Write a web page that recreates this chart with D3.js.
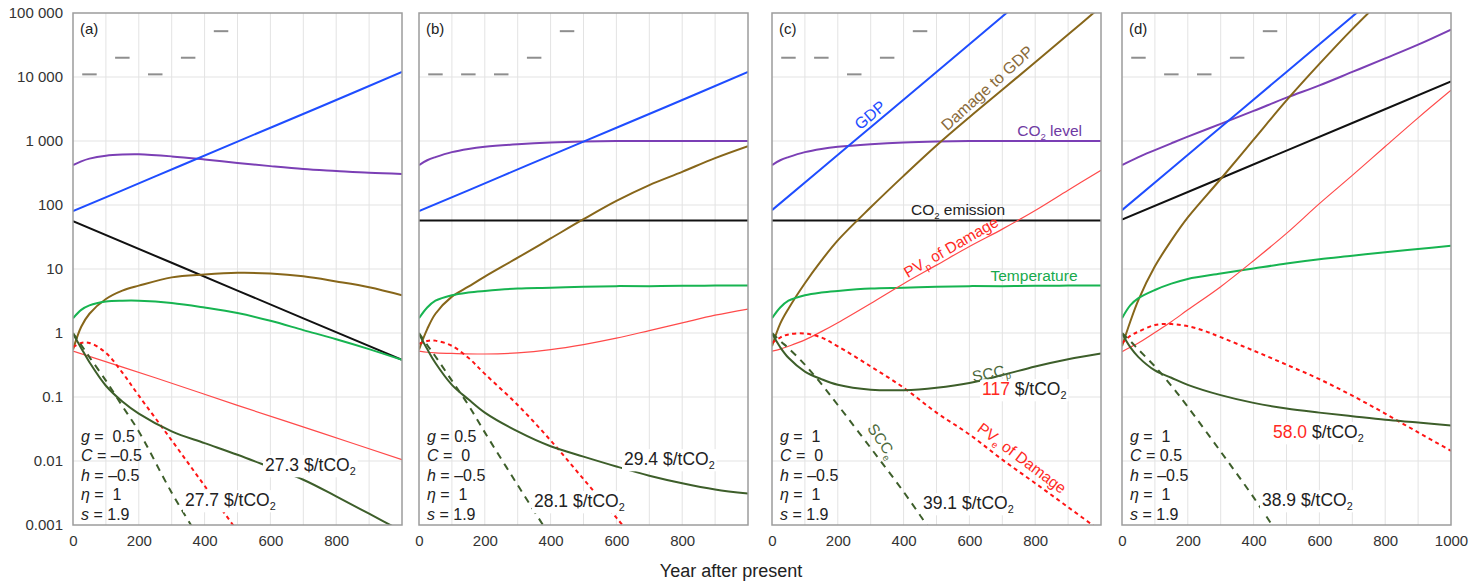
<!DOCTYPE html>
<html>
<head>
<meta charset="utf-8">
<script src="https://cdn.jsdelivr.net/npm/d3@7"></script>
<style>
  html, body { margin: 0; padding: 0; background: #fff; }
  text { font-family: "Liberation Sans", Arial, Helvetica, sans-serif; }
</style>
</head>
<body>
<svg id="chart" width="1484" height="585"></svg>
<script>
// ---------- shared axis values ----------
const xTicks = [0, 200, 400, 600, 800];
const xTicksLast = [0, 200, 400, 600, 800, 1000];
const yTicks = [100000, 10000, 1000, 100, 10, 1, 0.1, 0.01, 0.001];
const yTickLabels = ["100 000", "10 000", "1 000", "100", "10", "1", "0.1", "0.01", "0.001"];
const markYears = [50, 150, 250, 350, 450];

// ---------- panel (a): g = 0.5, C = -0.5 ----------
const gdpA = [[0,80],[250,280],[500,980],[750,3400],[1000,12000]];
const co2LevelA = [[0,420],[25,480],[50,530],[100,590],[150,615],[200,620],[300,575],[400,515],[500,455],[600,405],[700,365],[800,340],[900,318],[1000,305]];
const co2EmissionA = [[0,56],[500,4.6],[1000,0.38]];
const damageA = [[0,0.55],[25,1.25],[50,2.0],[100,3.4],[150,4.6],[200,5.5],[300,7.4],[400,8.2],[500,8.7],[600,8.5],[700,7.7],[800,6.4],[900,5.2],[1000,3.9]];
const temperatureA = [[0,1.7],[25,2.3],[50,2.7],[100,3.1],[150,3.2],[200,3.2],[300,2.95],[400,2.5],[500,2.05],[600,1.55],[700,1.11],[800,0.8],[900,0.56],[1000,0.38]];
const pvpA = [[0,0.52],[250,0.2],[500,0.074],[750,0.028],[1000,0.0105]];
const pveA = [[0,0.6],[25,0.7],[50,0.7],[100,0.49],[150,0.24],[200,0.105],[300,0.021],[400,0.0041],[500,0.0008]];
const sccpA = [[0,0.97],[25,0.58],[50,0.35],[100,0.15],[150,0.085],[200,0.055],[300,0.029],[400,0.019],[500,0.0125],[600,0.008],[700,0.0051],[800,0.0028],[900,0.0015],[1000,0.0008]];
const sceA = [[0,1.0],[25,0.65],[50,0.42],[100,0.18],[150,0.072],[200,0.029],[300,0.0032],[400,0.00045]];
const marksA = [11000, 20000, 11000, 20000, 52000];

// ---------- panel (b): g = 0.5, C = 0 ----------
const gdpB = [[0,80],[250,280],[500,980],[750,3400],[1000,12000]];
const co2LevelB = [[0,420],[25,500],[50,560],[100,670],[150,750],[200,810],[300,890],[400,950],[500,985],[600,1000],[700,1000],[800,1000],[900,1000],[1000,1000]];
const co2EmissionB = [[0,57],[500,57],[1000,57]];
const damageB = [[0,0.55],[25,1.15],[50,2.0],[100,3.7],[150,5.3],[200,7.6],[300,15],[400,30],[500,60],[600,116],[700,205],[800,330],[900,540],[1000,830]];
const temperatureB = [[0,1.7],[25,2.5],[50,3.2],[100,3.9],[150,4.3],[200,4.55],[300,4.95],[400,5.1],[500,5.3],[600,5.4],[700,5.4],[800,5.45],[900,5.5],[1000,5.5]];
const pvpB = [[0,0.52],[25,0.5],[50,0.49],[100,0.48],[200,0.47],[300,0.49],[400,0.55],[500,0.66],[600,0.83],[700,1.09],[800,1.44],[900,1.9],[1000,2.37]];
const pveB = [[0,0.68],[25,0.75],[50,0.76],[100,0.63],[150,0.41],[200,0.23],[300,0.075],[400,0.021],[500,0.0052],[600,0.0013],[700,0.0003]];
const sccpB = [[0,0.97],[25,0.56],[50,0.34],[100,0.155],[150,0.092],[200,0.057],[300,0.029],[400,0.017],[500,0.0117],[600,0.0082],[700,0.0059],[800,0.0045],[900,0.0036],[1000,0.0031]];
const sceB = [[0,1.0],[25,0.65],[50,0.43],[100,0.18],[150,0.075],[200,0.028],[300,0.0042],[400,0.00065]];
const marksB = [11000, 11000, 11000, 20000, 52000];

// ---------- panel (c): g = 1, C = 0 ----------
const gdpC = [[0,83],[250,1000],[500,12000],[750,145000]];
const co2LevelC = [[0,420],[25,500],[50,560],[100,670],[150,750],[200,810],[300,890],[400,950],[500,985],[600,1000],[700,1000],[800,1000],[900,1000],[1000,1000]];
const co2EmissionC = [[0,57],[500,57],[1000,57]];
const damageC = [[0,0.62],[25,1.4],[50,2.4],[100,6.0],[150,13.5],[200,28],[300,92],[400,285],[500,850],[600,2350],[700,6300],[800,17000],[900,46000],[1000,126000]];
const temperatureC = [[0,1.7],[25,2.5],[50,3.2],[100,3.9],[150,4.3],[200,4.55],[300,4.95],[400,5.1],[500,5.3],[600,5.4],[700,5.4],[800,5.45],[900,5.5],[1000,5.5]];
const pvpC = [[0,0.52],[25,0.56],[50,0.62],[100,0.78],[150,1.05],[200,1.45],[300,2.9],[400,5.9],[500,11.5],[600,22.5],[700,42],[800,82],[900,170],[1000,350]];
const pveC = [[0,0.7],[25,0.85],[50,0.95],[100,0.98],[150,0.85],[200,0.62],[300,0.30],[400,0.14],[500,0.057],[600,0.026],[700,0.0105],[800,0.0045],[900,0.0019],[1000,0.0008]];
const sccpC = [[0,0.98],[25,0.6],[50,0.41],[100,0.25],[150,0.19],[200,0.155],[300,0.13],[400,0.128],[500,0.14],[600,0.166],[700,0.22],[800,0.30],[900,0.39],[1000,0.48]];
const sceC = [[0,1.0],[25,0.75],[50,0.58],[100,0.32],[150,0.16],[200,0.075],[300,0.016],[400,0.0033],[500,0.0006]];
const marksC = [20000, 20000, 11000, 20000, 52000];

// ---------- panel (d): g = 1, C = 0.5 ----------
const gdpD = [[0,83],[250,1000],[500,12000],[750,145000]];
const co2LevelD = [[0,420],[50,560],[100,720],[150,920],[200,1170],[300,1850],[400,2950],[500,4750],[600,7400],[700,12000],[800,19500],[900,32000],[1000,55000]];
const co2EmissionD = [[0,59],[500,708],[1000,8500]];
const damageD = [[0,0.62],[25,1.5],[50,3.3],[100,11],[150,28],[200,64],[300,255],[400,1050],[500,4300],[600,16000],[700,56000],[800,180000]];
const temperatureD = [[0,1.7],[25,2.7],[50,3.5],[100,4.7],[150,5.9],[200,7.0],[300,8.5],[400,10.2],[500,12.2],[600,14.2],[700,16.1],[800,18.3],[900,20.5],[1000,23]];
const pvpD = [[0,0.51],[25,0.6],[50,0.7],[100,1.02],[150,1.5],[200,2.3],[300,5.3],[400,13.5],[500,36],[600,105],[700,290],[800,820],[900,2300],[1000,6200]];
const pveD = [[0,0.69],[25,0.9],[50,1.05],[100,1.33],[150,1.38],[200,1.28],[250,1.08],[300,0.86],[400,0.53],[500,0.32],[600,0.19],[700,0.105],[800,0.055],[900,0.028],[1000,0.0144]];
const sccpD = [[0,0.98],[25,0.6],[50,0.42],[100,0.26],[150,0.2],[200,0.155],[300,0.107],[400,0.081],[500,0.066],[600,0.057],[700,0.05],[800,0.044],[900,0.04],[1000,0.036]];
const sceD = [[0,1.0],[25,0.75],[50,0.55],[100,0.3],[150,0.15],[200,0.07],[300,0.014],[400,0.0027],[500,0.00045]];
const marksD = [20000, 11000, 11000, 20000, 52000];

// parameter blocks: [symbol, rest of line]
const paramsA = [["g", " =  0.5"], ["C", " = \u20130.5"], ["h", " = \u20130.5"], ["\u03b7", " =  1"], ["s", " = 1.9"]];
const paramsB = [["g", " = 0.5"], ["C", " =  0"], ["h", " = \u20130.5"], ["\u03b7", " =  1"], ["s", " = 1.9"]];
const paramsC = [["g", " =  1"], ["C", " =  0"], ["h", " = \u20130.5"], ["\u03b7", " =  1"], ["s", " = 1.9"]];
const paramsD = [["g", " =  1"], ["C", " = 0.5"], ["h", " = \u20130.5"], ["\u03b7", " =  1"], ["s", " = 1.9"]];

// ---------- styles ----------
const RED = "#ff2a1f";
const style = {
  co2Level:    { color: "#7b3fb5", width: 2 },
  gdp:         { color: "#1f4dff", width: 2 },
  co2Emission: { color: "#111111", width: 2 },
  damage:      { color: "#87661a", width: 2 },
  temperature: { color: "#17b451", width: 2 },
  pvp:         { color: "#ff4a4a", width: 1.2 },
  pve:         { color: "#ff1414", width: 2, dash: "4 3.5" },
  sccp:        { color: "#3d5e2a", width: 2 },
  sce:         { color: "#3d5e2a", width: 2, dash: "7 6" }
};
const order = ["co2Level", "gdp", "co2Emission", "damage", "temperature", "pvp", "pve", "sccp", "sce"];

const panels = [
  { tag: "(a)", left: 73,  xTicks: xTicks, params: paramsA, marks: marksA,
    series: { gdp: gdpA, co2Level: co2LevelA, co2Emission: co2EmissionA, damage: damageA, temperature: temperatureA, pvp: pvpA, pve: pveA, sccp: sccpA, sce: sceA },
    values: [ { dx: 192, y: 465, num: "27.3", red: false }, { dx: 112, y: 500, num: "27.7", red: false } ] },
  { tag: "(b)", left: 419, xTicks: xTicks, params: paramsB, marks: marksB,
    series: { gdp: gdpB, co2Level: co2LevelB, co2Emission: co2EmissionB, damage: damageB, temperature: temperatureB, pvp: pvpB, pve: pveB, sccp: sccpB, sce: sceB },
    values: [ { dx: 205, y: 459, num: "29.4", red: false }, { dx: 115, y: 501, num: "28.1", red: false } ] },
  { tag: "(c)", left: 772, xTicks: xTicks, params: paramsC, marks: marksC,
    series: { gdp: gdpC, co2Level: co2LevelC, co2Emission: co2EmissionC, damage: damageC, temperature: temperatureC, pvp: pvpC, pve: pveC, sccp: sccpC, sce: sceC },
    values: [ { dx: 210, y: 389, num: "117", red: true }, { dx: 151, y: 503, num: "39.1", red: false } ] },
  { tag: "(d)", left: 1122, xTicks: xTicksLast, params: paramsD, marks: marksD,
    series: { gdp: gdpD, co2Level: co2LevelD, co2Emission: co2EmissionD, damage: damageD, temperature: temperatureD, pvp: pvpD, pve: pveD, sccp: sccpD, sce: sceD },
    values: [ { dx: 151, y: 432, num: "58.0", red: true }, { dx: 140, y: 500, num: "38.9", red: false } ] }
];

// series names written along the curves of panel (c)
const seriesLabels = [
  { parts: [{ t: "GDP" }], color: style.gdp.color, dx: 98, y: 115, rot: -40, anchor: "middle", size: 16 },
  { parts: [{ t: "Damage to GDP" }], color: "#8a6a3a", dx: 215, y: 88, rot: -42, anchor: "middle", size: 16 },
  { parts: [{ t: "CO" }, { t: "2", sub: true }, { t: " level" }], color: "#6f3aa3", dx: 310, y: 131, rot: 0, anchor: "end", size: 15.5 },
  { parts: [{ t: "CO" }, { t: "2", sub: true }, { t: " emission" }], color: "#222", dx: 186, y: 210, rot: 0, anchor: "middle", size: 15.5 },
  { parts: [{ t: "PV" }, { t: "p", sub: true }, { t: " of Damage" }], color: RED, dx: 179, y: 247, rot: -30, anchor: "middle", size: 15.5 },
  { parts: [{ t: "Temperature" }], color: "#17a94c", dx: 262, y: 276, rot: 0, anchor: "middle", size: 15.5 },
  { parts: [{ t: "SCC" }, { t: "p", sub: true }], color: "#4d6a3c", dx: 219, y: 373, rot: -11, anchor: "middle", size: 15.5 },
  { parts: [{ t: "SCC" }, { t: "e", sub: true }], color: "#4d6a3c", dx: 110, y: 441, rot: 56, anchor: "middle", size: 15.5 },
  { parts: [{ t: "PV" }, { t: "e", sub: true }, { t: " of Damage" }], color: RED, dx: 250, y: 458, rot: 37, anchor: "middle", size: 15.5 }
];

// ---------- layout ----------
const plotW = 329, plotTop = 13, plotBottom = 525;
const svg = d3.select("#chart");
const fontTick = 15;

function richText(sel, parts, size) {
  let shifted = false;
  parts.forEach(p => {
    const ts = sel.append("tspan").text(p.t);
    if (p.sub) {
      ts.attr("font-size", size * 0.62).attr("dy", size * 0.24);
      shifted = true;
    } else if (shifted) {
      ts.attr("dy", -size * 0.24);
      shifted = false;
    }
    if (p.color) ts.attr("fill", p.color);
  });
}

const y = d3.scaleLog().domain([0.001, 100000]).range([plotBottom, plotTop]);

panels.forEach((p, pi) => {
  const x = d3.scaleLinear().domain([0, 1000]).range([p.left, p.left + plotW]);
  const g = svg.append("g");
  const clipId = "clip" + pi;
  g.append("clipPath").attr("id", clipId).append("rect")
    .attr("x", p.left).attr("y", plotTop).attr("width", plotW).attr("height", plotBottom - plotTop);

  // grid
  const grid = g.append("g").attr("stroke", "#e3e3e3").attr("stroke-width", 1);
  d3.range(100, 1000, 100).forEach(v => {
    grid.append("line").attr("x1", x(v)).attr("x2", x(v)).attr("y1", plotTop).attr("y2", plotBottom);
  });
  yTicks.slice(1, -1).forEach(v => {
    grid.append("line").attr("x1", p.left).attr("x2", p.left + plotW).attr("y1", y(v)).attr("y2", y(v));
  });

  // short grey markers near the top
  g.append("g").selectAll("line").data(p.marks).join("line")
    .attr("x1", (d, i) => x(markYears[i] - 22)).attr("x2", (d, i) => x(markYears[i] + 22))
    .attr("y1", d => y(d)).attr("y2", d => y(d))
    .attr("stroke", "#8e8e8e").attr("stroke-width", 2);

  // curves
  const line = d3.line().x(d => x(d[0])).y(d => y(d[1])).curve(d3.curveCatmullRom.alpha(0.5));
  const curves = g.append("g").attr("clip-path", `url(#${clipId})`);
  order.forEach(k => {
    const s = style[k];
    curves.append("path").datum(p.series[k]).attr("d", line)
      .attr("fill", "none").attr("stroke", s.color).attr("stroke-width", s.width)
      .attr("stroke-dasharray", s.dash || null).attr("stroke-linejoin", "round");
  });

  // frame
  g.append("rect").attr("x", p.left).attr("y", plotTop).attr("width", plotW).attr("height", plotBottom - plotTop)
    .attr("fill", "none").attr("stroke", "#9c9c9c").attr("stroke-width", 1.5);

  // x axis labels
  const xAxis = d3.axisBottom(x).tickValues(p.xTicks).tickSize(0).tickPadding(10).tickFormat(d3.format("d"));
  const xa = g.append("g").attr("transform", `translate(0,${plotBottom})`).call(xAxis);
  xa.select(".domain").remove();
  xa.selectAll("text").attr("font-size", fontTick).attr("fill", "#333");
  xa.attr("font-family", null);

  // y axis labels only on the first panel
  if (pi === 0) {
    const yAxis = d3.axisLeft(y).tickValues(yTicks).tickSize(0).tickPadding(10)
      .tickFormat((d, i) => yTickLabels[i]);
    const ya = g.append("g").attr("transform", `translate(${p.left},0)`).call(yAxis);
    ya.select(".domain").remove();
    ya.selectAll("text").attr("font-size", fontTick).attr("fill", "#333");
    ya.attr("font-family", null);
  }

  // panel tag
  g.append("text").attr("x", p.left + 7).attr("y", 29 + 5.3).attr("font-size", 15).attr("fill", "#222").text(p.tag);

  // parameter block
  const pb = g.append("g");
  const pc = [436, 455.5, 475, 494.5, 514];
  p.params.forEach((row, i) => {
    const t = pb.append("text").attr("x", p.left + 8).attr("y", pc[i] + 5.6)
      .attr("font-size", 16).attr("fill", "#222").style("white-space", "pre");
    t.append("tspan").attr("font-style", "italic").text(row[0]);
    t.append("tspan").text(row[1]);
  });

  // SCC value labels
  p.values.forEach(v => {
    const size = 17.5;
    const t = g.append("text").attr("x", p.left + v.dx).attr("y", v.y + size * 0.35)
      .attr("font-size", size).attr("fill", "#222").style("white-space", "pre");
    richText(t, [{ t: v.num, color: v.red ? RED : null }, { t: " $/tCO" }, { t: "2", sub: true }], size);
    const bb = t.node().getBBox();
    g.insert("rect", () => t.node())
      .attr("x", bb.x - 2).attr("y", bb.y).attr("width", bb.width + 4).attr("height", bb.height)
      .attr("fill", "#fff");
  });

  // curve names in panel (c)
  if (pi === 2) {
    seriesLabels.forEach(l => {
      const t = g.append("text")
        .attr("transform", `translate(${p.left + l.dx},${l.y}) rotate(${l.rot})`)
        .attr("y", l.size * 0.35).attr("text-anchor", l.anchor)
        .attr("font-size", l.size).attr("fill", l.color);
      richText(t, l.parts, l.size);
    });
  }
});

// shared x-axis title
svg.append("text").attr("x", 731).attr("y", 577).attr("text-anchor", "middle")
  .attr("font-size", 18).attr("fill", "#222").text("Year after present");
</script>
</body>
</html>
